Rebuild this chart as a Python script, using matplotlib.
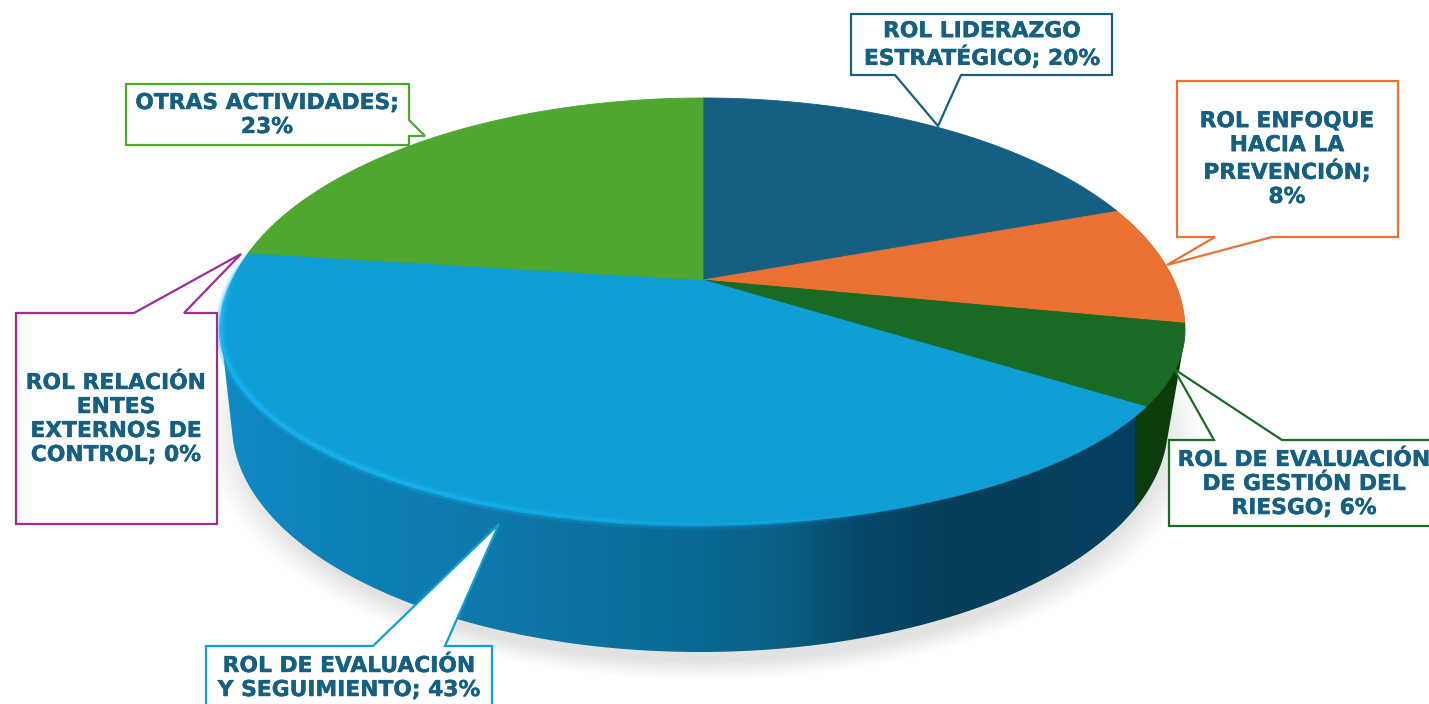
import numpy as np
import matplotlib
matplotlib.use('Agg')
import matplotlib.pyplot as plt
import matplotlib.patheffects as pe
from matplotlib.colors import to_rgb
from matplotlib.collections import LineCollection
from matplotlib.patches import Polygon

# slices, clockwise from the top (labels are the rounded values)
categories = ['ROL LIDERAZGO ESTRATÉGICO', 'ROL ENFOQUE HACIA LA PREVENCIÓN',
              'ROL DE EVALUACIÓN DE GESTIÓN DEL RIESGO', 'ROL DE EVALUACIÓN Y SEGUIMIENTO',
              'ROL RELACIÓN ENTES EXTERNOS DE CONTROL', 'OTRAS ACTIVIDADES']
values = [19.6, 8.4, 6.49, 42.51, 0.0, 23.0]
colors = ['#156082', '#E97132', '#196B24', '#0F9ED5', '#A02B93', '#4EA72E']
labels = ['ROL LIDERAZGO\nESTRATÉGICO; 20%', 'ROL ENFOQUE\nHACIA LA\nPREVENCIÓN;\n8%',
          'ROL DE EVALUACIÓN\nDE GESTIÓN DEL\nRIESGO; 6%', 'ROL DE EVALUACIÓN\nY SEGUIMIENTO; 43%',
          'ROL RELACIÓN\nENTES\nEXTERNOS DE\nCONTROL; 0%', 'OTRAS ACTIVIDADES;\n23%']

# callout outlines in pixels, and where the text sits
callouts = [
    [(851, 14), (1112, 14), (1112, 75), (961, 75), (938, 126), (895, 75), (851, 75)],
    [(1177, 81), (1398, 81), (1398, 237), (1272, 237), (1167, 265), (1215, 237), (1177, 237)],
    [(1169, 440), (1214, 440), (1174, 369), (1282, 440), (1435, 440), (1435, 526), (1169, 526)],
    [(206, 646), (373, 646), (499, 524), (445, 646), (492, 646), (492, 712), (206, 712)],
    [(16, 313), (134, 313), (241, 254), (184, 313), (217, 313), (217, 524), (16, 524)],
    [(126, 84), (409, 84), (409, 120), (425, 136), (409, 136), (409, 145), (126, 145)],
]
text_pos = [(982, 45), (1287, 159), (1304, 484), (349, 678), (116, 419), (267, 115)]

# geometry of the tilted disc: widest row sits below the middle of the outline
apex_x, apex_y = 703, 280
top_y, wide_y, bottom_y = 98, 330, 525
half_w = 482
mid_y = (top_y + bottom_y) / 2
up_scale = (wide_y - top_y) / (mid_y - top_y)
down_scale = (bottom_y - wide_y) / (bottom_y - mid_y)
flat_apex = top_y + (apex_y - top_y) / up_scale
up = flat_apex - top_y
down = bottom_y - flat_apex
k = (down - up) / (down + up)
a = up * (1 + k)
c = half_w * np.sqrt(1 - k ** 2)


def disc(theta):
    # theta in radians, clockwise from the top
    u, v = np.sin(theta), np.cos(theta)
    d = 1 + k * v
    y = flat_apex - a * v / d
    y = np.where(y < mid_y, top_y + (y - top_y) * up_scale, wide_y + (y - mid_y) * down_scale)
    return apex_x + c * u / d, y


def hull(pts):
    pts = sorted(set(pts))
    def half(seq):
        out = []
        for p in seq:
            while len(out) > 1 and ((out[-1][0] - out[-2][0]) * (p[1] - out[-2][1])
                                    - (out[-1][1] - out[-2][1]) * (p[0] - out[-2][0])) <= 0:
                out.pop()
            out.append(p)
        return out[:-1]
    return half(pts) + half(pts[::-1])


fig = plt.figure(figsize=(14.29, 7.04), dpi=100)
ax = fig.add_axes([0, 0, 1, 1])
ax.axis('off')

t = np.linspace(0, 2 * np.pi, 721)

# lower edge of the side wall
low_cx, low_cy, low_a, low_b = 700, 425, 468, 227
low_x = low_cx + low_a * np.sin(t)
low_y = low_cy - low_b * np.cos(t)

# soft shadow
gx, gy = np.meshgrid(np.arange(150, 1300), np.arange(200, 704))
dist = np.sqrt(((gx - 703) / 482.0) ** 2 + ((gy - 436) / 236.0) ** 2)
shadow = np.zeros(gx.shape + (4,))
shadow[..., :3] = 0.62
shadow[..., 3] = 0.30 * np.clip((1.03 - dist) / 0.08, 0, 1)
ax.imshow(shadow, extent=(150, 1300, 704, 200), zorder=1, interpolation='bilinear', aspect='auto')

# side wall: horizontal shading, clipped to the outline of the solid
angles = np.cumsum([0] + values) / 100 * 2 * np.pi
tx, ty = disc(t)
outline = hull(list(zip(tx.tolist(), ty.tolist())) + list(zip(low_x.tolist(), low_y.tolist())))
wall_patch = Polygon(outline, closed=True, fc='none', ec='none', transform=ax.transData)
ax.add_patch(wall_patch)

stop_x = [220, 300, 500, 700, 780, 860, 950, 1140]
stop_c = ['#0E8BC6', '#0E84BA', '#0D78A9', '#0A6A94', '#0A5E84', '#07486A', '#063F5A', '#064160']
stop_rgb = np.array([to_rgb(s) for s in stop_c])
wx = np.arange(215, 1195)
wall = np.stack([np.interp(wx, stop_x, stop_rgb[:, i]) for i in range(3)], axis=1)
split_x = disc(angles[3])[0]
wall[wx > split_x - 12] = to_rgb('#0B3D0C')
im = ax.imshow(wall[np.newaxis, :, :], extent=(215, 1195, 670, 200), zorder=2, aspect='auto')
im.set_clip_path(wall_patch)

# top face, one polygon per slice
for start, end, col in zip(angles[:-1], angles[1:], colors):
    if end <= start:
        continue
    th = np.linspace(start, end, 200)
    x, y = disc(th)
    ax.fill(np.r_[apex_x, x], np.r_[apex_y, y], color=col, lw=0.6, zorder=3)

# bright edge on the front of the big slice
th = np.linspace(angles[4], angles[3] + 0.55, 260)
x, y = disc(th)
segs = np.stack([np.c_[x[:-1], y[:-1]], np.c_[x[1:], y[1:]]], axis=1)
fade = np.clip((th[:-1] - th[-1]) / 1.0, 0, 1) * np.clip((angles[4] - th[:-1]) / 0.25, 0, 1)
for lw, strength in [(7, 0.3), (3, 0.9)]:
    rgba = np.zeros((len(segs), 4))
    rgba[:, :3] = to_rgb('#17B2F0')
    rgba[:, 3] = fade * strength
    ax.add_collection(LineCollection(segs, colors=rgba, linewidths=lw, zorder=4, capstyle='butt'))

# callouts
for pts, col, lab, pos in zip(callouts, colors, labels, text_pos):
    ax.add_patch(Polygon(pts, closed=True, fc='white', ec=col, lw=1.6, joinstyle='miter', zorder=5))
    ax.text(pos[0], pos[1], lab, ha='center', va='center', color='#156082', fontsize=15.7,
            fontweight='bold', family='DejaVu Sans', linespacing=1.25, zorder=6,
            path_effects=[pe.withStroke(linewidth=0.3, foreground='#156082')])

ax.set_xlim(0, 1429)
ax.set_ylim(704, 0)
fig.savefig('out.png', dpi=100)
